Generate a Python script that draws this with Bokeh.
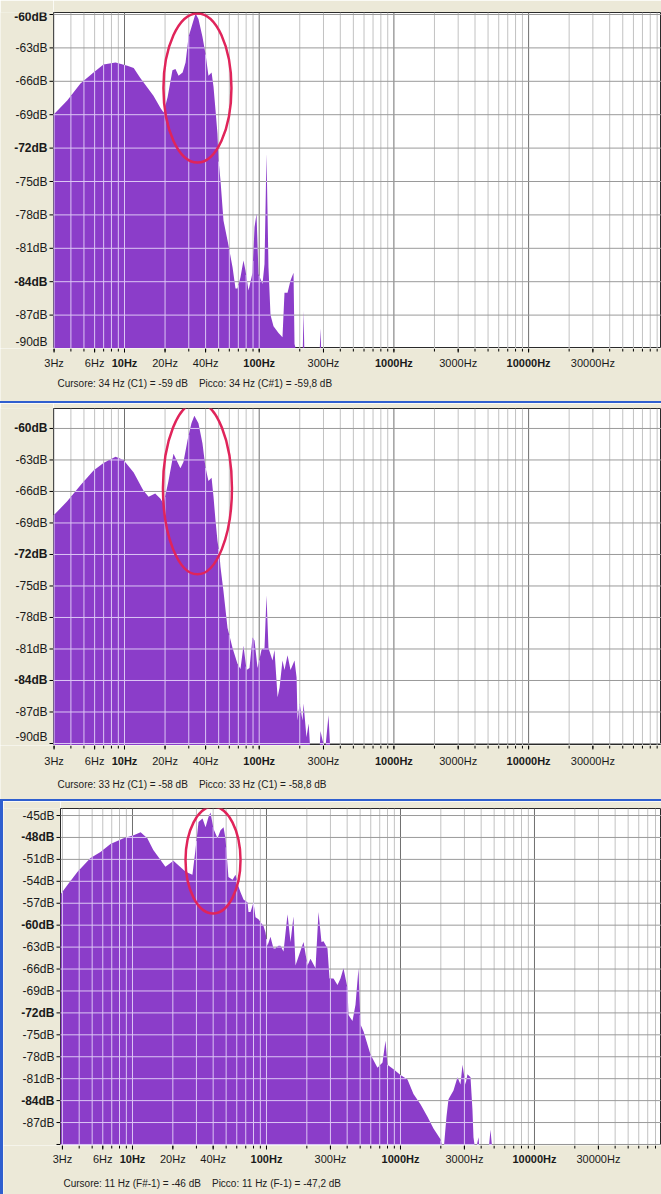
import numpy as np
from bokeh.plotting import figure
from bokeh.models import Range1d, Spacer, ColumnDataSource
from bokeh.core.properties import value
from bokeh.layouts import column, row
from bokeh.embed import file_html
from bokeh.resources import INLINE

# ---------------- data ----------------
freq_1 = [2.97, 3.77, 4.71, 5.89, 6.98, 8.58, 10.5, 11.7, 13.1, 16.4, 18.5, 19.5, 20.9, 22.7, 23.9,
          25.2, 27.0, 28.4, 29.9, 32.0, 33.7, 35.4, 37.9, 39.9, 42.0, 44.3, 45.8, 47.4, 49.0, 49.9,
          51.6, 54.3, 58.2, 63.4, 66.7, 69.0, 72.6, 76.4, 79.1, 83.3, 89.2, 92.3, 95.5, 98.8, 105.8,
          109.5, 113.3, 117.2, 121.3, 127.7, 139.1, 148.9, 154.1, 162.3, 170.8, 179.8, 182.9, 195.8,
          210.0, 213.3, 217.0, 280.0, 285.1, 290.0, 100000]
db_1 = [-69.0, -67.7, -66.2, -65.2, -64.5, -64.3, -64.6, -64.8, -65.7, -67.3, -68.4, -68.8, -67.4, -65.0, -64.9,
        -65.5, -65.2, -64.3, -62.0, -60.8, -59.9, -60.4, -62.0, -63.5, -65.5, -65.2, -66.5, -68.6, -70.7, -73.1,
        -74.9, -78.5, -80.3, -82.7, -84.6, -84.6, -83.6, -82.1, -83.0, -84.8, -83.2, -79.1, -77.9, -83.3, -84.2,
        -82.4, -72.5, -82.7, -87.0, -88.0, -88.6, -89.0, -85.0, -85.0, -83.9, -83.2, -89.6, -91.0,
        -91.0, -86.6, -91.0, -91.0, -88.2, -91.0, -91.0]

freq_2 = [2.97, 3.77, 4.71, 5.89, 6.98, 8.58, 9.83, 11.7, 13.8, 15.1, 16.9, 18.5, 19.5, 21.2, 23.1, 24.7,
          26.0, 27.4, 29.4, 31.4, 33.0, 35.4, 37.9, 39.9, 42.0, 44.3, 45.8, 47.4, 49.0, 50.7, 51.6, 54.3,
          58.2, 63.4, 69.0, 72.6, 76.4, 80.6, 84.7, 89.2, 92.3, 97.2, 104.0, 109.5, 113.3, 117.2, 125.5,
          129.9, 136.9, 141.6, 148.9, 154.1, 162.3, 170.8, 182.9, 189.4, 192.6, 199.4, 209.7, 213.3,
          224.4, 232.9, 240.3, 280.0, 285.1, 295.2, 309.5, 327.0, 338.1, 100000]
db_2 = [-68.3, -66.9, -65.4, -64.0, -63.3, -62.7, -63.0, -64.2, -65.9, -66.5, -66.2, -66.7, -67.2, -65.0, -62.4, -63.2,
        -63.8, -63.2, -61.1, -59.5, -58.8, -59.5, -61.4, -63.7, -65.0, -64.7, -66.5, -68.8, -70.7, -72.0, -73.2, -75.5,
        -79.0, -80.9, -82.4, -82.9, -80.7, -83.0, -82.8, -79.9, -80.2, -82.8, -81.1, -80.9, -75.9, -80.9, -82.1,
        -81.1, -85.6, -84.7, -82.1, -83.0, -81.6, -83.0, -82.1, -83.7, -87.8, -86.2, -87.8, -86.2,
        -89.4, -88.1, -91.0, -91.0, -88.8, -89.7, -90.5, -87.3, -91.0, -91.0]

freq_3 = [2.90, 3.27, 3.89, 4.86, 5.77, 6.85, 8.57, 10.2, 11.5, 12.9, 14.3, 16.2, 17.6, 19.2, 20.2, 22.0,
          24.9, 28.0, 29.5, 31.1, 33.3, 35.1, 36.9, 38.2, 40.2, 43.1, 45.4, 47.8, 49.4, 52.0, 55.8, 58.7,
          61.8, 64.0, 67.4, 72.2, 73.4, 76.0, 80.0, 82.8, 87.2, 90.2, 95.0, 98.3, 101.7, 107.1, 112.8,
          116.7, 122.9, 127.2, 134.0, 143.5, 151.1, 159.0, 164.6, 179.4, 188.9, 202.3, 213.0, 232.2,
          244.4, 257.3, 266.3, 285.3, 295.3, 316.2, 338.8, 356.7, 375.5, 402.3, 409.2, 438.3, 461.5,
          486.0, 502.9, 529.5, 597.3, 673.5, 734.2, 773.0, 799.8, 886.9, 1000, 1128, 1250, 1410, 1590,
          1763, 1989, 2094, 2204, 2282, 2486, 2664, 2804, 2902, 3056, 3162, 3331, 3445, 3505, 3628,
          3821, 3900, 4536, 4695, 4861, 100000]
db_3 = [-55.8, -54.5, -52.7, -50.8, -50.0, -48.9, -48.1, -47.7, -47.3, -48.1, -49.7, -51.1, -52.0, -51.5, -51.2, -51.8,
        -52.7, -53.1, -49.7, -45.9, -45.4, -46.6, -45.2, -44.6, -46.8, -48.1, -47.0, -46.6, -48.1, -53.4, -53.8, -53.1,
        -54.7, -55.5, -56.5, -56.9, -58.2, -58.2, -56.9, -58.9, -59.2, -59.6, -60.1, -61.0, -62.8, -61.6, -63.2,
        -63.2, -62.8, -62.8, -63.6, -58.5, -62.3, -58.8, -65.5, -63.5, -62.3, -65.5, -64.6, -65.9,
        -58.2, -62.3, -62.2, -63.2, -67.3, -67.3, -68.2, -67.3, -65.9, -68.6, -72.3, -73.1, -70.9,
        -65.9, -73.6, -74.5, -77.7, -79.5, -78.8, -75.8, -79.1, -79.7, -80.5, -81.1, -83.1, -84.5, -86.2,
        -87.8, -89.3, -91.0, -86.2, -83.8, -82.6, -80.8, -81.8, -79.1, -81.8, -80.4, -80.8, -85.3, -89.0, -91.0,
        -89.0, -91.0, -91.0, -88.0, -91.0, -91.0]

# highlighted peak regions (red ellipses): centre frequency, centre dB
peak_freq = [34.8, 34.8, 39.9]
peak_db = [-66.6, -65.7, -51.1]

db_ticks_1 = [-90, -87, -84, -81, -78, -75, -72, -69, -66, -63, -60]
db_ticks_2 = [-90, -87, -84, -81, -78, -75, -72, -69, -66, -63, -60]
db_ticks_3 = [-90, -87, -84, -81, -78, -75, -72, -69, -66, -63, -60, -57, -54, -51, -48, -45]
db_bold = [-84, -72, -60, -48]

freq_ticks = [3, 6, 10, 20, 40, 100, 300, 1000, 3000, 10000, 30000]
freq_labels = ["3Hz", "6Hz", "10Hz", "20Hz", "40Hz", "100Hz", "300Hz", "1000Hz", "3000Hz", "10000Hz", "30000Hz"]
bold_freqs = [10, 100, 1000, 10000]

status_1 = "Cursore: 34 Hz (C1) = -59 dB\u00a0\u00a0\u00a0 Picco: 34 Hz (C#1) = -59,8 dB"
status_2 = "Cursore: 33 Hz (C1) = -58 dB\u00a0\u00a0\u00a0 Picco: 33 Hz (C1) = -58,8 dB"
status_3 = "Cursore: 11 Hz (F#-1) = -46 dB\u00a0\u00a0\u00a0 Picco: 11 Hz (F-1) = -47,2 dB"

# ---------------- style ----------------
BEIGE = "#ece9d8"
PURPLE = "#8b3dc9"
LAVENDER = "#dcc6f4"
RED = "#e0245a"
BLUE = "#2f5fcf"
FONT = "Liberation Sans"
TXT = "#1a1a1a"

decades = [10, 100, 1000, 10000]
grid_all = [k * 10 ** n for n in range(0, 5) for k in range(1, 10)]
grid_minor = [g for g in grid_all if g not in decades]


def grid_over_spectrum(freq, db, x_lo, x_hi, y_lo, y_hi, levels):
    """Parts of the grid lines that lie inside the filled spectrum."""
    lx = np.log10(np.asarray(freq, dtype=float))
    d = np.asarray(db, dtype=float)
    vx, vy0, vy1 = [], [], []
    for g in grid_all:
        if x_lo < g < x_hi:
            top = float(np.interp(np.log10(g), lx, d))
            if top > y_lo:
                vx.append(float(g))
                vy0.append(float(y_lo))
                vy1.append(float(min(top, y_hi)))
    hx0, hx1, hy = [], [], []
    for L in levels:
        if L <= y_lo + 0.05 or L >= y_hi:
            continue
        start = float(lx[0]) if d[0] > L else None
        for i in range(len(lx) - 1):
            a, b = d[i] - L, d[i + 1] - L
            if (a > 0) != (b > 0):
                xc = float(lx[i] + (L - d[i]) / (d[i + 1] - d[i]) * (lx[i + 1] - lx[i]))
                if b > 0:
                    start = xc
                elif start is not None:
                    hx0.append(10 ** start)
                    hx1.append(10 ** xc)
                    hy.append(float(L))
                    start = None
    return (vx, vy0, vy1), (hx0, hx1, hy)


def strip(width, height, x_range, y_range, log_x=False, top=0):
    f = figure(width=width, height=height, x_range=x_range, y_range=y_range,
               x_axis_type="log" if log_x else "linear",
               x_axis_location=None, y_axis_location=None, output_backend="svg",
               toolbar_location=None, min_border_left=0, min_border_right=0,
               min_border_top=top, min_border_bottom=0, background_fill_color=BEIGE,
               border_fill_color=BEIGE, outline_line_color=None)
    f.grid.visible = False
    return f


def db_text(fig, x, vals, bold=False, baseline="middle", dy=0):
    if not vals:
        return
    fig.text(x=[x] * len(vals), y=vals, text=[f"{v}dB" for v in vals], text_align="right",
             text_baseline=baseline, y_offset=dy, text_font=value(FONT), text_font_size="12px",
             text_font_style="bold" if bold else "normal", text_color=TXT)


def make_panel(freq, db, x_rng, y_rng, db_ticks, label_ticks, status, ell_idx, ell_size,
               W, b_left, b_top, frame_h, b_bottom, xlab_dy, status_dy, status_dx):
    x_lo, x_hi = x_rng
    y_lo, y_hi = y_rng
    fw = W - b_left
    yr = Range1d(y_lo, y_hi)

    # ---------- spectrum area ----------
    p = figure(width=fw, height=b_top + frame_h, x_axis_type="log",
               x_range=Range1d(x_lo, x_hi), y_range=yr,
               x_axis_location=None, y_axis_location=None,
               output_backend="svg", toolbar_location=None,
               min_border_left=0, min_border_right=0, min_border_top=b_top, min_border_bottom=0,
               background_fill_color="white", border_fill_color=BEIGE, outline_line_color="#2a2a2a")
    p.grid.visible = False

    nh = len(db_ticks)
    p.segment(x0=grid_minor, y0=[y_lo] * len(grid_minor), x1=list(grid_minor), y1=[y_hi] * len(grid_minor),
              line_color="#c2c2c2", line_width=1)
    p.segment(x0=decades, y0=[y_lo] * 4, x1=list(decades), y1=[y_hi] * 4, line_color="#707070", line_width=1)
    p.segment(x0=[x_lo] * nh, y0=db_ticks, x1=[x_hi] * nh, y1=list(db_ticks), line_color="#9a9a9a", line_width=1)

    p.varea(x=freq, y1=-100, y2=db, fill_color=PURPLE)

    (vx, vy0, vy1), (hx0, hx1, hy) = grid_over_spectrum(freq, db, x_lo, x_hi, y_lo, y_hi, db_ticks)
    vsrc = ColumnDataSource(dict(xa=vx, xb=list(vx), ya=vy0, yb=vy1))
    hsrc = ColumnDataSource(dict(xa=hx0, xb=hx1, ya=hy, yb=list(hy)))
    p.segment(x0="xa", y0="ya", x1="xb", y1="yb", source=vsrc, line_color=LAVENDER, line_width=1)
    p.segment(x0="xa", y0="ya", x1="xb", y1="yb", source=hsrc, line_color=LAVENDER, line_width=1)

    p.ellipse(x=[peak_freq[ell_idx]], y=[peak_db[ell_idx]], width=ell_size[0], height=ell_size[1],
              width_units="screen", height_units="screen", fill_alpha=0,
              line_color=RED, line_width=2.5)

    # ---------- dB labels (left strip, same dB range) ----------
    yl = strip(b_left, b_top + frame_h, Range1d(0, b_left), yr, top=b_top)
    near_top = [v for v in label_ticks if y_hi - v < 0.5]
    reg = [v for v in label_ticks if v not in db_bold and v != -90 and v not in near_top]
    bold = [v for v in label_ticks if v in db_bold and v not in near_top]
    xr = b_left - 6
    db_text(yl, xr, reg)
    db_text(yl, xr, bold, bold=True)
    db_text(yl, xr, [v for v in near_top if v in db_bold], bold=True, dy=2)
    db_text(yl, xr, [v for v in near_top if v not in db_bold], dy=2)
    if -90 in label_ticks:
        db_text(yl, xr, [-90], baseline="bottom")
    yl.segment(x0=[b_left - 4] * nh, y0=db_ticks, x1=[b_left] * nh, y1=list(db_ticks),
               line_color="black", line_width=1)

    # ---------- frequency labels + status line (bottom strip, same log scale) ----------
    px_per_dec = fw / (np.log10(x_hi) - np.log10(x_lo))
    x_ext = 10 ** (np.log10(x_lo) - b_left / px_per_dec)
    xl = strip(W, b_bottom, Range1d(x_ext, x_hi), Range1d(-b_bottom, 0), log_x=True)
    gvis = [g for g in grid_all if x_lo <= g <= x_hi]
    xl.segment(x0=gvis, y0=[0] * len(gvis), x1=list(gvis), y1=[-3] * len(gvis), line_color="black")
    xl.segment(x0=freq_ticks, y0=[0] * len(freq_ticks), x1=list(freq_ticks), y1=[-4] * len(freq_ticks),
               line_color="black")
    rf = [(f, lab) for f, lab in zip(freq_ticks, freq_labels) if f not in bold_freqs]
    bf = [(f, lab) for f, lab in zip(freq_ticks, freq_labels) if f in bold_freqs]
    xl.text(x=[f for f, _ in rf], y=[-xlab_dy] * len(rf), text=[lab for _, lab in rf], text_align="center",
            text_baseline="middle", text_font=value(FONT), text_font_size="11px", text_color=TXT)
    xl.text(x=[f for f, _ in bf], y=[-xlab_dy] * len(bf), text=[lab for _, lab in bf], text_align="center",
            text_baseline="middle", text_font=value(FONT), text_font_size="11px",
            text_font_style="bold", text_color=TXT)
    xl.text(x=[x_lo], y=[-status_dy], text=[status], x_offset=status_dx, text_align="left",
            text_baseline="middle", text_font=value(FONT), text_font_size="10px", text_color="#202020")

    return column(row(yl, p), xl)


panel_1 = make_panel(freq_1, db_1, (2.971, 96960), (-90.0, -59.82), db_ticks_1, db_ticks_1, status_1,
                     0, (68, 149), 661, 53, 12, 336, 53, 14, 35, 4)
panel_2 = make_panel(freq_2, db_2, (2.971, 96960), (-90.19, -58.10), db_ticks_2, db_ticks_2, status_2,
                     1, (69, 172), 661, 53, 5, 337, 54, 15, 39, 4)
panel_3 = make_panel(freq_3, db_3, (2.902, 88700), (-90.14, -44.04), db_ticks_3, db_ticks_3[1:], status_3,
                     2, (55, 107), 658, 57, 7, 337, 49, 13, 38, 3)

sep1 = Spacer(width=661, height=2, styles={"background-color": BLUE})
sep2 = Spacer(width=661, height=2, styles={"background-color": BLUE})
side = Spacer(width=3, height=393, styles={"background-color": BLUE})

layout = column(panel_1, sep1, panel_2, sep2, row(side, panel_3))

open("out.html", "w").write(file_html(layout, INLINE))
